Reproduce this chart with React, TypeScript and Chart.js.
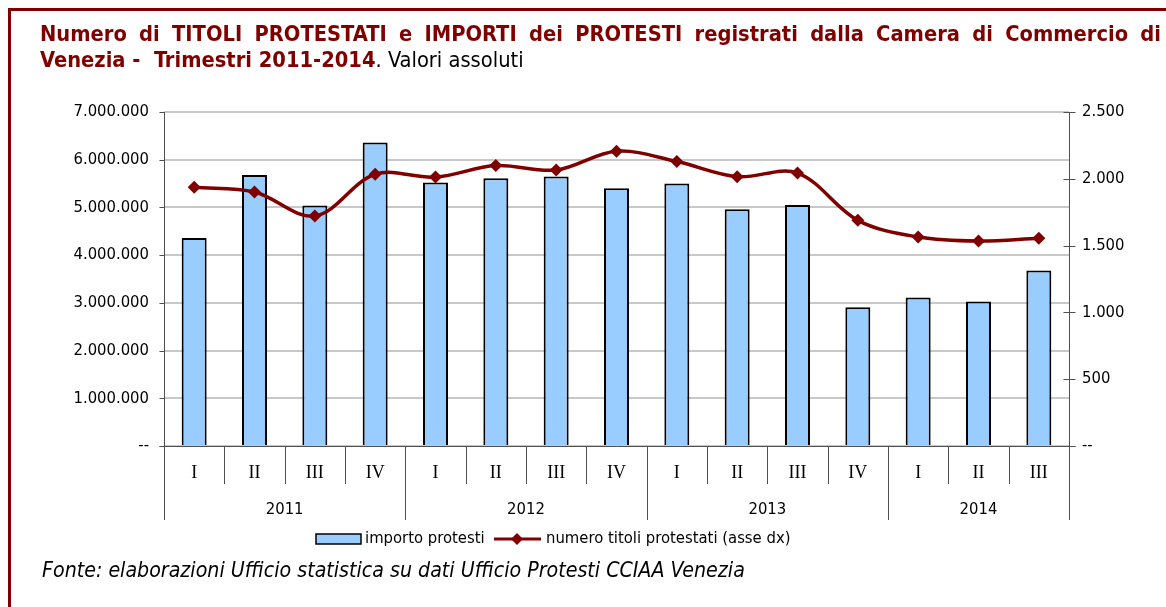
import React, { useEffect, useRef } from "react";
import { Chart, registerables } from "chart.js";

Chart.register(...registerables);

// ---------- data ----------
const quarters = ["I", "II", "III", "IV", "I", "II", "III", "IV", "I", "II", "III", "IV", "I", "II", "III"];
const years = ["2011", "2012", "2013", "2014"];
const quartersPerYear = [4, 4, 4, 3];
const importoProtesti = [4360000, 5680000, 5040000, 6360000, 5520000, 5610000, 5650000, 5400000, 5500000, 4960000, 5050000, 2910000, 3110000, 3030000, 3680000];
const numeroTitoli = [1936, 1901, 1722, 2034, 2013, 2099, 2066, 2206, 2129, 2016, 2043, 1689, 1564, 1534, 1555];
const leftAxisMax = 7000000;
const leftAxisStep = 1000000;
const rightAxisMax = 2500;
const rightAxisStep = 500;

const seriesBarLabel = "importo protesti";
const seriesLineLabel = "numero titoli protestati (asse dx)";
const titleLine1 = "Numero di TITOLI PROTESTATI e IMPORTI dei PROTESTI registrati dalla Camera di Commercio di";
const titleLine2Bold = "Venezia -  Trimestri 2011-2014";
const titleLine2Rest = ". Valori assoluti";
const footnote = "Fonte: elaborazioni Ufficio statistica su dati Ufficio Protesti CCIAA Venezia";

// ---------- style ----------
const W = 1166;
const H = 607;
const RED = "#800000";
const BLUE = "#99CCFF";
const AXIS = "#505050";
const SANS = "'DejaVu Sans Condensed', 'DejaVu Sans', sans-serif";
const SERIF = "'Liberation Serif', 'DejaVu Serif', serif";
const TICK_SIZE = 16.5;

const fmt = (v: number) =>
  v === 0 ? "--" : Math.round(v).toString().replace(/\B(?=(\d{3})+(?!\d))/g, ".");

const decorPlugin = {
  id: "decor",
  afterDraw(chart: any) {
    const ctx: CanvasRenderingContext2D = chart.ctx;
    const area = chart.chartArea;
    const ys = chart.scales.y;
    const ys1 = chart.scales.y1;
    ctx.save();

    // frame (top + left)
    ctx.fillStyle = RED;
    ctx.fillRect(8, 8, W - 8, 3);
    ctx.fillRect(8, 8, 3, H - 8);

    // title: font size chosen so that line 2 spans the reference width
    ctx.textBaseline = "alphabetic";
    ctx.textAlign = "left";
    const tLeft = 40;
    const tRight = 1161;
    ctx.font = `bold 20px ${SANS}`;
    const wb0 = ctx.measureText(titleLine2Bold).width;
    ctx.font = `20px ${SANS}`;
    const wr0 = ctx.measureText(titleLine2Rest).width;
    const tSize = Math.min(22, (20 * (524 - tLeft)) / (wb0 + wr0));
    const boldFont = `bold ${tSize}px ${SANS}`;
    const regFont = `${tSize}px ${SANS}`;

    // line 1 justified
    ctx.font = boldFont;
    ctx.fillStyle = RED;
    const words = titleLine1.split(" ");
    const widths = words.map((w) => ctx.measureText(w).width);
    const total = widths.reduce((a, b) => a + b, 0);
    const gap = (tRight - tLeft - total) / (words.length - 1);
    let x = tLeft;
    words.forEach((w, i) => {
      ctx.fillText(w, x, 41);
      x += widths[i] + gap;
    });
    // line 2
    ctx.fillText(titleLine2Bold, tLeft, 67);
    const wb = ctx.measureText(titleLine2Bold).width;
    ctx.font = regFont;
    ctx.fillStyle = "#000";
    ctx.fillText(titleLine2Rest, tLeft + wb, 67);

    // axes
    const L = Math.round(area.left) + 0.5;
    const R = Math.round(area.right) + 0.5;
    const B = Math.round(area.bottom) + 0.5;
    const T = Math.round(area.top);
    ctx.strokeStyle = AXIS;
    ctx.lineWidth = 1;
    ctx.beginPath();
    ctx.moveTo(L, T);
    ctx.lineTo(L, B);
    ctx.moveTo(R, T);
    ctx.lineTo(R, B);
    ctx.moveTo(L - 5, B);
    ctx.lineTo(R + 6, B);
    ys.ticks.forEach((t: any) => {
      const y = Math.round(ys.getPixelForValue(t.value)) + 0.5;
      ctx.moveTo(L - 5, y);
      ctx.lineTo(L, y);
    });
    ys1.ticks.forEach((t: any) => {
      const y = Math.round(ys1.getPixelForValue(t.value)) + 0.5;
      ctx.moveTo(R - 6, y);
      ctx.lineTo(R + 6, y);
    });
    // category separators
    const n = quarters.length;
    const cw = (area.right - area.left) / n;
    const yearBounds = new Set<number>();
    let acc = 0;
    yearBounds.add(0);
    quartersPerYear.forEach((q) => {
      acc += q;
      yearBounds.add(acc);
    });
    for (let i = 0; i <= n; i++) {
      const xx = Math.round(area.left + i * cw) + 0.5;
      ctx.moveTo(xx, B);
      ctx.lineTo(xx, yearBounds.has(i) ? 520 : 484);
    }
    ctx.stroke();

    // quarter labels
    ctx.fillStyle = "#000";
    ctx.textAlign = "center";
    ctx.textBaseline = "middle";
    ctx.font = `18px ${SERIF}`;
    quarters.forEach((q, i) => {
      ctx.fillText(q, area.left + (i + 0.5) * cw, 473);
    });
    // year labels
    ctx.font = `${TICK_SIZE}px ${SANS}`;
    let start = 0;
    years.forEach((yr, i) => {
      const end = start + quartersPerYear[i];
      ctx.fillText(yr, area.left + ((start + end) / 2) * cw, 510);
      start = end;
    });

    // legend
    const ly = 539;
    ctx.fillStyle = BLUE;
    ctx.fillRect(316, 534, 45, 10);
    ctx.strokeStyle = "#000";
    ctx.lineWidth = 1.5;
    ctx.strokeRect(316, 534, 45, 10);
    ctx.fillStyle = "#000";
    ctx.textAlign = "left";
    ctx.font = `${TICK_SIZE}px ${SANS}`;
    ctx.fillText(seriesBarLabel, 365, ly);
    ctx.strokeStyle = RED;
    ctx.lineWidth = 3;
    ctx.beginPath();
    ctx.moveTo(494, ly);
    ctx.lineTo(541, ly);
    ctx.stroke();
    ctx.fillStyle = RED;
    ctx.beginPath();
    ctx.moveTo(517, ly - 6);
    ctx.lineTo(523, ly);
    ctx.lineTo(517, ly + 6);
    ctx.lineTo(511, ly);
    ctx.closePath();
    ctx.fill();
    ctx.fillStyle = "#000";
    ctx.fillText(seriesLineLabel, 546, ly);

    // footnote: size chosen to span the reference width
    ctx.textBaseline = "alphabetic";
    ctx.font = `italic 20px ${SANS}`;
    const wf0 = ctx.measureText(footnote).width;
    const fSize = Math.min(22, (20 * (745 - 42)) / wf0);
    ctx.font = `italic ${fSize}px ${SANS}`;
    ctx.fillText(footnote, 42, 577);

    ctx.restore();
  },
};

export default function App() {
  const ref = useRef<HTMLCanvasElement | null>(null);

  useEffect(() => {
    if (!ref.current) return;
    const chart = new Chart(ref.current, {
      type: "bar",
      data: {
        labels: quarters,
        datasets: [
          {
            type: "line",
            label: seriesLineLabel,
            data: numeroTitoli,
            yAxisID: "y1",
            borderColor: RED,
            backgroundColor: RED,
            borderWidth: 3.5,
            tension: 0.35,
            pointStyle: "rectRot",
            pointRadius: 6.5,
            pointBorderWidth: 0,
            pointBackgroundColor: RED,
            order: 0,
          } as any,
          {
            type: "bar",
            label: seriesBarLabel,
            data: importoProtesti,
            yAxisID: "y",
            backgroundColor: BLUE,
            borderColor: "#000",
            borderWidth: 2,
            barPercentage: 0.414,
            categoryPercentage: 1,
            order: 1,
          } as any,
        ],
      },
      plugins: [decorPlugin],
      options: {
        responsive: false,
        devicePixelRatio: 1,
        animation: false,
        layout: { padding: { left: 0, right: 0, top: 112, bottom: H - 446 } },
        plugins: {
          legend: { display: false },
          tooltip: { enabled: false },
          title: { display: false },
        },
        scales: {
          x: { type: "category", display: false, offset: true },
          y: {
            position: "left",
            min: 0,
            max: leftAxisMax,
            afterFit: (s: any) => {
              s.width = 164;
            },
            border: { display: false },
            grid: { color: "#c8c8c8", lineWidth: 2, drawTicks: false },
            ticks: {
              stepSize: leftAxisStep,
              padding: 15,
              color: "#000",
              font: { family: SANS, size: TICK_SIZE },
              callback: (v: any) => fmt(Number(v)),
            },
          },
          y1: {
            position: "right",
            min: 0,
            max: rightAxisMax,
            afterFit: (s: any) => {
              s.width = W - 1069;
            },
            border: { display: false },
            grid: { drawOnChartArea: false, drawTicks: false },
            ticks: {
              stepSize: rightAxisStep,
              padding: 13,
              color: "#000",
              font: { family: SANS, size: TICK_SIZE },
              callback: (v: any) => fmt(Number(v)),
            },
          },
        },
      } as any,
    });
    return () => chart.destroy();
  }, []);

  return (
    <canvas
      ref={ref}
      width={W}
      height={H}
      style={{ position: "absolute", left: 0, top: 0, width: W, height: H, display: "block" }}
    />
  );
}
